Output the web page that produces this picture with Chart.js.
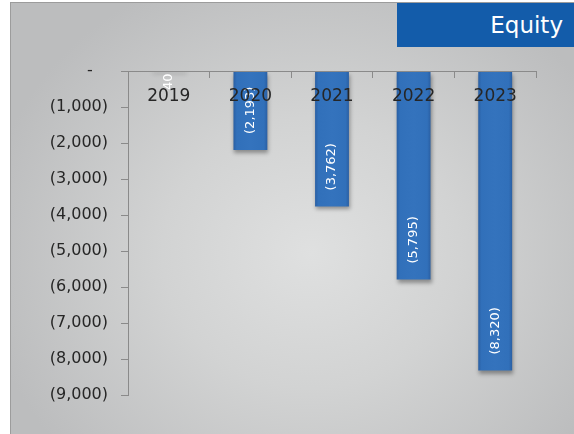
<!DOCTYPE html>
<html>
<head>
<meta charset="utf-8">
<script src="https://cdn.jsdelivr.net/npm/chart.js@4.4.1/dist/chart.umd.min.js"></script>
<style>
  html, body { margin: 0; padding: 0; background: #ffffff; }
  #wrap { position: relative; width: 574px; height: 434px; overflow: hidden; }
  #panel {
    position: absolute; left: 10px; top: 2px; right: 0; bottom: 0;
    border-left: 1px solid #9c9c9c; border-top: 1px solid #9c9c9c;
    background: radial-gradient(ellipse 330px 300px at 300px 250px, #dfe0e0 0%, #d2d3d3 45%, #bcbdbe 100%);
  }
  #title {
    position: absolute; left: 397px; top: 3px; width: 177px; height: 44px;
    background: #135caa; color: #ffffff;
    font-family: "DejaVu Sans", sans-serif; font-size: 23px;
    text-align: right; line-height: 44px; padding-right: 11px; box-sizing: border-box;
  }
  canvas { position: absolute; left: 0; top: 0; }
</style>
</head>
<body>
<div id="wrap">
  <div id="panel"></div>
  <div id="title">Equity</div>
  <canvas id="chart" width="574" height="434"></canvas>
</div>
<script>
// Equity by year
const categories = ['2019', '2020', '2021', '2022', '2023'];
const equity = [40, -2193, -3762, -5795, -8320];
const yMin = -9000;
const yMax = 0;
const yStep = 1000;

// accounting style: negatives in brackets, zero as a dash
function fmt(v) {
  if (v === 0) return '-   ';
  const s = Math.abs(v).toLocaleString('en-US');
  return v < 0 ? '(' + s + ')' : s;
}

const axisColor = '#8a8a8a';
const textColor = '#262626';

function barFill(context) {
  const chart = context.chart;
  const xs = chart.scales.x;
  const cx = xs ? xs.getPixelForValue(context.dataIndex) : NaN;
  if (!Number.isFinite(cx)) return '#3170ba';
  const g = chart.ctx.createLinearGradient(cx - 17, 0, cx + 17, 0);
  g.addColorStop(0, '#2a5fa3');
  g.addColorStop(0.1, '#3170ba');
  g.addColorStop(0.5, '#3473bd');
  g.addColorStop(0.9, '#3170ba');
  g.addColorStop(1, '#2a5fa3');
  return g;
}

// soft drop shadow under the bars, then value labels rotated inside the bars
const barDecor = {
  id: 'barDecor',
  beforeDatasetsDraw(chart) {
    const ctx = chart.ctx;
    ctx.save();
    ctx.shadowColor = 'rgba(0,0,0,0.35)';
    ctx.shadowBlur = 4;
    ctx.shadowOffsetX = 1;
    ctx.shadowOffsetY = 3;
  },
  afterDatasetsDraw(chart) {
    const ctx = chart.ctx;
    ctx.restore();
    const meta = chart.getDatasetMeta(0);
    ctx.save();
    ctx.font = '13px "DejaVu Sans", sans-serif';
    ctx.fillStyle = '#ffffff';
    ctx.textBaseline = 'middle';
    meta.data.forEach((bar, i) => {
      const v = equity[i];
      const label = fmt(v);
      ctx.save();
      ctx.translate(bar.x, 0);
      ctx.rotate(-Math.PI / 2);
      if (v < 0) {
        ctx.textAlign = 'left';
        ctx.fillText(label, -(bar.y - 16), 0);
      } else {
        ctx.textAlign = 'right';
        ctx.fillText(label, -(bar.base + 3), 0);
      }
      ctx.restore();
    });
    ctx.restore();
  }
};

new Chart(document.getElementById('chart'), {
  type: 'bar',
  data: {
    labels: categories,
    datasets: [{
      data: equity,
      backgroundColor: barFill,
      borderWidth: 0,
      barPercentage: 0.415,
      categoryPercentage: 1
    }]
  },
  options: {
    responsive: false,
    animation: false,
    events: [],
    layout: { padding: { left: 0, top: 71, right: 38, bottom: 39 } },
    plugins: { legend: { display: false }, tooltip: { enabled: false }, title: { display: false } },
    scales: {
      x: {
        position: { y: 0 },
        grid: { drawOnChartArea: false, drawTicks: true, tickLength: 6, color: axisColor, offset: true, z: 1 },
        border: { color: axisColor, width: 1, z: 1 },
        ticks: {
          z: 2,
          padding: 9, color: textColor, maxRotation: 0, autoSkip: false,
          font: { family: '"DejaVu Sans", sans-serif', size: 17 }
        },
        afterFit(scale) { scale.height = 0; }
      },
      y: {
        min: yMin, max: yMax,
        grid: { drawOnChartArea: false, drawTicks: true, tickLength: 7, color: axisColor },
        border: { color: axisColor, width: 1 },
        ticks: {
          stepSize: yStep, padding: 13, color: textColor,
          font: { family: '"DejaVu Sans", sans-serif', size: 16 },
          callback: (v) => fmt(v)
        },
        afterFit(scale) { scale.width = 128; }
      }
    }
  },
  plugins: [barDecor]
});
</script>
</body>
</html>
